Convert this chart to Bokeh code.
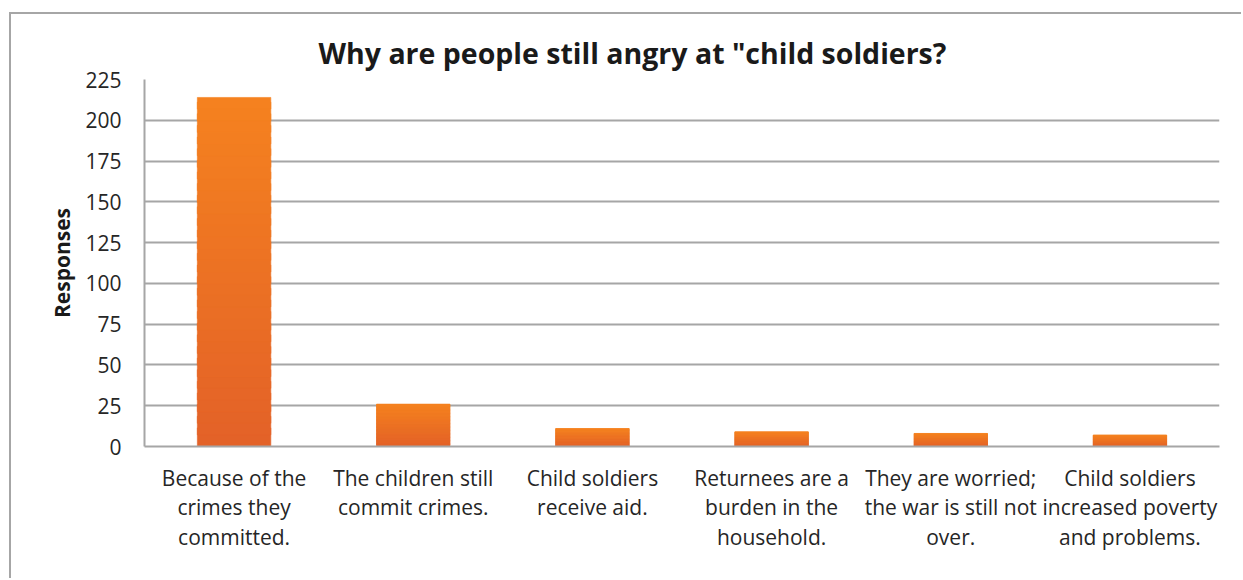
from bokeh.plotting import figure
from bokeh.models import FactorRange, Range1d, FixedTicker, ColumnDataSource
from bokeh.embed import file_html
from bokeh.resources import INLINE

categories = [
    "Because of the\ncrimes they\ncommitted.",
    "The children still\ncommit crimes.",
    "Child soldiers\nreceive aid.",
    "Returnees are a\nburden in the\nhousehold.",
    "They are worried;\nthe war is still not\nover.",
    "Child soldiers\nincreased poverty\nand problems.",
]
responses = [214, 26, 11, 9, 8, 7]
y_ticks = [0, 25, 50, 75, 100, 125, 150, 175, 200, 225]

FONT = "Open Sans"
TOP_COLOR = (245, 130, 31)
BOTTOM_COLOR = (227, 97, 40)
N_STRIPS = 30
BAR_WIDTH = 0.41

p = figure(
    width=1232, height=566,
    x_range=FactorRange(*categories, range_padding=0),
    y_range=Range1d(0, 225),
    output_backend="svg", toolbar_location=None,
    min_border_left=133, min_border_right=24, min_border_top=65, min_border_bottom=134,
    title='Why are people still angry at "child soldiers?',
)
p.styles = {
    "margin-left": "9px", "margin-top": "12px",
    "border-left": "2px solid #A6A6A6", "border-top": "2px solid #A6A6A6",
}

# gradient bars built from strips computed from the data
xs, bottoms, tops, colors = [], [], [], []
for cat, v in zip(categories, responses):
    for i in range(N_STRIPS):
        f0 = i / N_STRIPS
        f1 = (i + 1) / N_STRIPS
        t = (i + 0.5) / N_STRIPS  # 0 bottom -> 1 top
        c = tuple(int(round(BOTTOM_COLOR[k] + (TOP_COLOR[k] - BOTTOM_COLOR[k]) * t)) for k in range(3))
        xs.append(cat)
        bottoms.append(v * f0)
        tops.append(v * f1 + (0.02 * v if i < N_STRIPS - 1 else 0))
        colors.append("#%02x%02x%02x" % c)
src = ColumnDataSource(dict(x=xs, bottom=bottoms, top=tops, color=colors))
p.vbar(x="x", bottom="bottom", top="top", width=BAR_WIDTH, fill_color="color",
       line_color="color", line_width=0.6, source=src)

p.title.text_font = FONT
p.title.text_font_size = "28.5px"
p.title.text_font_style = "bold"
p.title.text_color = "#1a1a1a"
p.title.align = "left"
p.title.offset = 174
p.title.standoff = 15

p.outline_line_color = None
p.background_fill_color = "white"
p.border_fill_color = "white"

p.xgrid.grid_line_color = None
p.ygrid.grid_line_color = "#A6A6A6"
p.ygrid.grid_line_width = 2
p.ygrid.ticker = FixedTicker(ticks=y_ticks)

p.yaxis.ticker = FixedTicker(ticks=y_ticks)
p.yaxis.axis_line_color = "#A6A6A6"
p.yaxis.axis_line_width = 2
p.yaxis.major_tick_line_color = None
p.yaxis.minor_tick_line_color = None
p.yaxis.major_label_standoff = 17
p.yaxis.major_label_text_font = FONT
p.yaxis.major_label_text_font_size = "21px"
p.yaxis.major_label_text_color = "#262626"
p.yaxis.axis_label = "Responses"
p.yaxis.axis_label_text_font = FONT
p.yaxis.axis_label_text_font_size = "21px"
p.yaxis.axis_label_text_font_style = "bold"
p.yaxis.axis_label_text_color = "#1a1a1a"
p.yaxis.axis_label_standoff = 6

p.xaxis.axis_line_color = "#A6A6A6"
p.xaxis.axis_line_width = 2
p.xaxis.major_tick_line_color = None
p.xaxis.minor_tick_line_color = None
p.xaxis.major_label_standoff = 11
p.xaxis.major_label_text_font = FONT
p.xaxis.major_label_text_font_size = "21px"
p.xaxis.major_label_text_color = "#262626"
p.xaxis.major_label_text_line_height = 1.06
p.xaxis.major_label_orientation = "horizontal"

open("out.html", "w").write(file_html(p, INLINE))
